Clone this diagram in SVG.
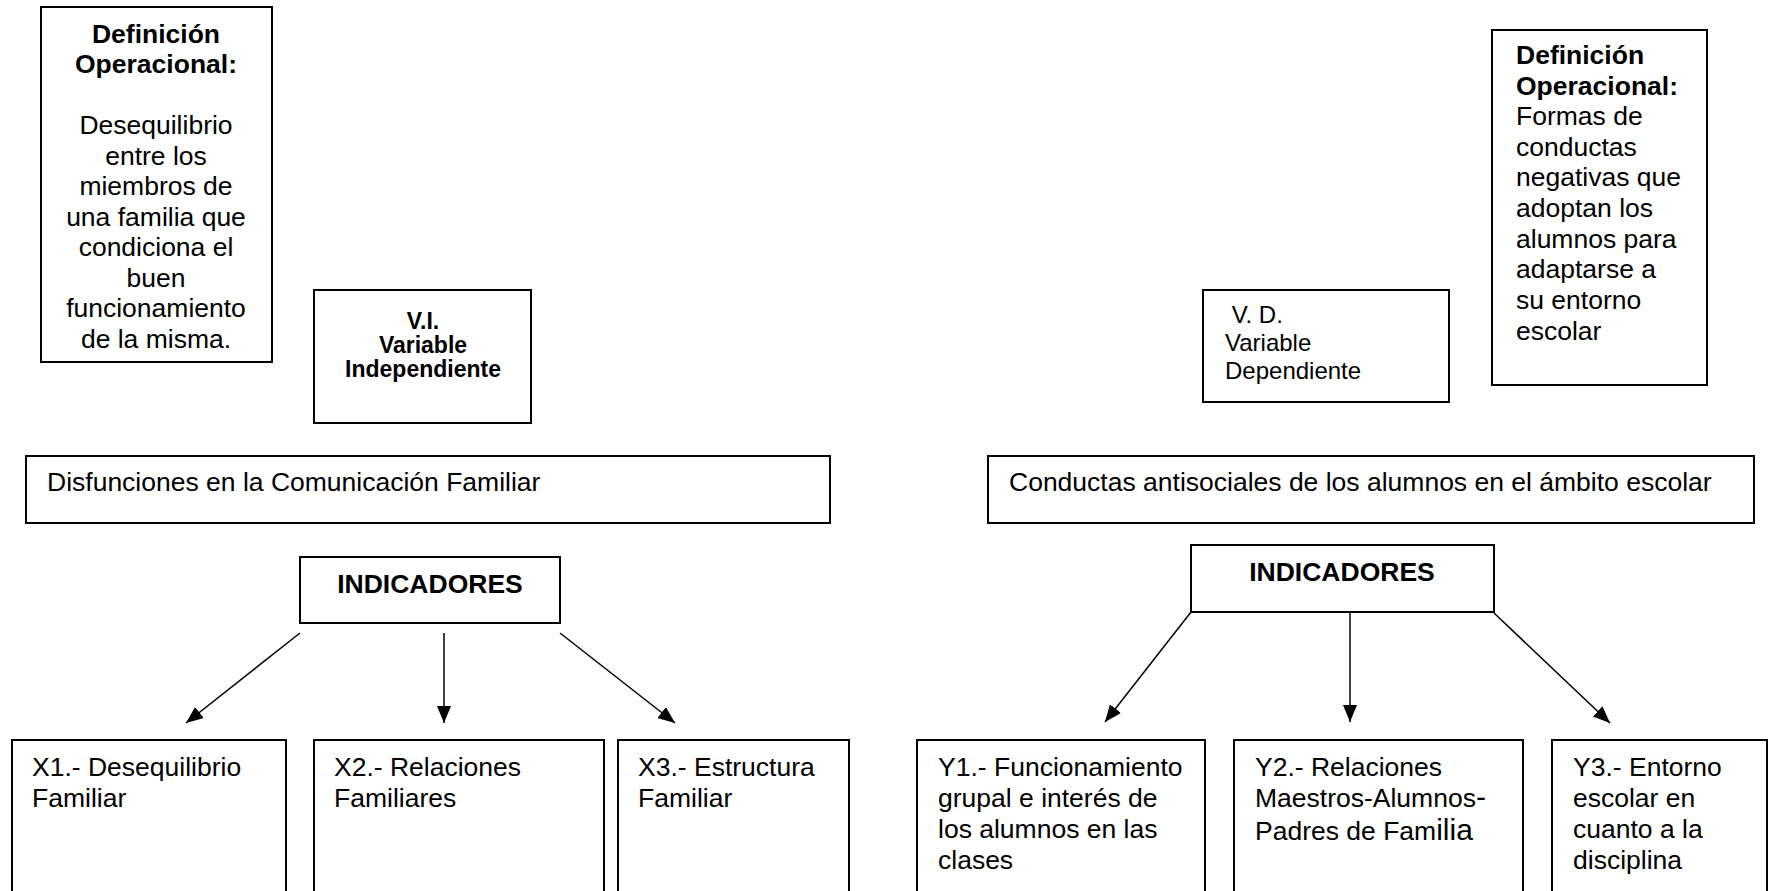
<svg xmlns="http://www.w3.org/2000/svg" width="1769" height="891" viewBox="0 0 1769 891">
<style>
.box{fill:#fff;stroke:#000;stroke-width:2}
.t{font-family:"Liberation Sans",Arial,sans-serif;font-size:26.5px;fill:#000}
.b{font-weight:bold}
.c{text-anchor:middle}
.s{font-size:24px}
.vi{font-size:23px}
.conn{stroke:#000;stroke-width:1.5;fill:none;marker-end:url(#ah)}
</style>
<defs>
<marker id="ah" markerUnits="userSpaceOnUse" markerWidth="17" markerHeight="14" refX="17" refY="7" orient="auto">
<path d="M0,0 L17,7 L0,14 z" fill="#000"/>
</marker>
</defs>
<rect width="1769" height="891" fill="#fff"/>

<g id="def-left">
<rect class="box" x="41" y="7" width="231" height="355"/>
<text class="t c b" x="156" y="43">Definición</text>
<text class="t c b" x="156" y="73">Operacional:</text>
<text class="t c" x="156" y="134">Desequilibrio</text>
<text class="t c" x="156" y="165">entre los</text>
<text class="t c" x="156" y="195">miembros de</text>
<text class="t c" x="156" y="226">una familia que</text>
<text class="t c" x="156" y="256">condiciona el</text>
<text class="t c" x="156" y="287">buen</text>
<text class="t c" x="156" y="317">funcionamiento</text>
<text class="t c" x="156" y="348">de la misma.</text>
</g>

<g id="vi">
<rect class="box" x="314" y="290" width="217" height="133"/>
<text class="t c b vi" x="423" y="329">V.I.</text>
<text class="t c b vi" x="423" y="353">Variable</text>
<text class="t c b vi" x="423" y="377">Independiente</text>
</g>

<g id="vd">
<rect class="box" x="1203" y="290" width="246" height="112"/>
<text class="t s" x="1225" y="323" xml:space="preserve"> V. D.</text>
<text class="t s" x="1225" y="351">Variable</text>
<text class="t s" x="1225" y="379">Dependiente</text>
</g>

<g id="def-right">
<rect class="box" x="1492" y="30" width="215" height="355"/>
<text class="t b" x="1516" y="64">Definición</text>
<text class="t b" x="1516" y="95">Operacional:</text>
<text class="t" x="1516" y="125">Formas de</text>
<text class="t" x="1516" y="156">conductas</text>
<text class="t" x="1516" y="186">negativas que</text>
<text class="t" x="1516" y="217">adoptan los</text>
<text class="t" x="1516" y="248">alumnos para</text>
<text class="t" x="1516" y="278">adaptarse a</text>
<text class="t" x="1516" y="309">su entorno</text>
<text class="t" x="1516" y="340">escolar</text>
</g>

<g id="var-independiente">
<rect class="box" x="26" y="456" width="804" height="67"/>
<text class="t" x="47" y="491">Disfunciones en la Comunicación Familiar</text>
</g>

<g id="var-dependiente">
<rect class="box" x="988" y="456" width="766" height="67"/>
<text class="t" x="1009" y="491">Conductas antisociales de los alumnos en el ámbito escolar</text>
</g>

<g id="ind-left">
<rect class="box" x="300" y="557" width="260" height="66"/>
<text class="t c b" x="430" y="593">INDICADORES</text>
</g>

<g id="ind-right">
<rect class="box" x="1191" y="545" width="303" height="67"/>
<text class="t c b" x="1342" y="581">INDICADORES</text>
</g>

<g id="x1">
<rect class="box" x="12" y="740" width="274" height="170"/>
<text class="t" x="32" y="776">X1.- Desequilibrio</text>
<text class="t" x="32" y="807">Familiar</text>
</g>
<g id="x2">
<rect class="box" x="314" y="740" width="290" height="170"/>
<text class="t" x="334" y="776">X2.- Relaciones</text>
<text class="t" x="334" y="807">Familiares</text>
</g>
<g id="x3">
<rect class="box" x="618" y="740" width="231" height="170"/>
<text class="t" x="638" y="776">X3.- Estructura</text>
<text class="t" x="638" y="807">Familiar</text>
</g>

<g id="y1">
<rect class="box" x="917" y="740" width="288" height="170"/>
<text class="t" x="938" y="776">Y1.- Funcionamiento</text>
<text class="t" x="938" y="807">grupal e interés de</text>
<text class="t" x="938" y="838">los alumnos en las</text>
<text class="t" x="938" y="869">clases</text>
</g>
<g id="y2">
<rect class="box" x="1234" y="740" width="289" height="170"/>
<text class="t" x="1255" y="776">Y2.- Relaciones</text>
<text class="t" x="1255" y="807">Maestros-Alumnos<tspan font-size="30">-</tspan></text>
<text class="t" x="1255" y="840">Padres de Fam<tspan font-size="30">ilia</tspan></text>
</g>
<g id="y3">
<rect class="box" x="1552" y="740" width="215" height="170"/>
<text class="t" x="1573" y="776">Y3.- Entorno</text>
<text class="t" x="1573" y="807">escolar en</text>
<text class="t" x="1573" y="838">cuanto a la</text>
<text class="t" x="1573" y="869">disciplina</text>
</g>

<g id="connectors">
<line class="conn" x1="300" y1="633" x2="186" y2="723"/>
<line class="conn" x1="444" y1="633" x2="444" y2="723"/>
<line class="conn" x1="560" y1="633" x2="675" y2="723"/>
<line class="conn" x1="1191" y1="612" x2="1105" y2="722"/>
<line class="conn" x1="1350" y1="613" x2="1350" y2="722"/>
<line class="conn" x1="1494" y1="613" x2="1610" y2="723"/>
</g>
</svg>
